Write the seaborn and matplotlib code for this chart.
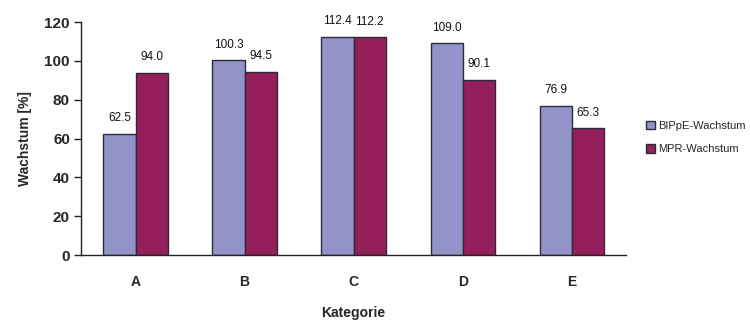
import matplotlib
matplotlib.use("Agg")
import matplotlib.pyplot as plt
from matplotlib.patches import Patch
import seaborn as sns
import pandas as pd

categories = ["A", "B", "C", "D", "E"]
bippe_values = [62.5, 100.3, 112.4, 109.0, 76.9]
mpr_values = [94.0, 94.5, 112.2, 90.1, 65.3]
series_names = ["BIPpE-Wachstum", "MPR-Wachstum"]
colors = ["#9393C9", "#951F5B"]

df = pd.DataFrame({
    "Kategorie": categories * 2,
    "Wert": bippe_values + mpr_values,
    "Serie": [series_names[0]] * len(categories) + [series_names[1]] * len(categories),
})

sns.set_style("white")
plt.rcParams["font.family"] = ["Liberation Sans", "DejaVu Sans"]

fig = plt.figure(figsize=(7.5, 3.2), dpi=100)
ax = fig.add_axes([0.108, 0.203, 0.727, 0.728])

sns.barplot(data=df, x="Kategorie", y="Wert", hue="Serie", palette=colors,
            width=0.59, edgecolor="#2b2b3a", linewidth=1.0, ax=ax,
            legend=False, errorbar=None, saturation=1)

for container in ax.containers:
    ax.bar_label(container, fmt="%.1f", padding=7, fontsize=8.5, color="#111111")

ax.set_ylim(0, 120)
ax.set_yticks(range(0, 121, 20))
ax.set_xlim(-0.5, 4.5)
for s in ["top", "right"]:
    ax.spines[s].set_visible(False)
for s in ["left", "bottom"]:
    ax.spines[s].set_color("#222222")
    ax.spines[s].set_linewidth(1.0)

ax.tick_params(axis="y", which="both", left=True, length=5, width=1,
               color="#222222", direction="out", labelsize=11, pad=3)
ax.tick_params(axis="x", bottom=False, labelsize=10, pad=11)
for lbl in ax.get_yticklabels() + ax.get_xticklabels():
    lbl.set_fontweight("bold")

ax.set_ylabel("Wachstum [%]", fontsize=10, fontweight="bold", labelpad=9)
ax.set_xlabel("Kategorie", fontsize=10, fontweight="bold", labelpad=12)

handles = [Patch(facecolor=c, edgecolor="#2b2b3a", linewidth=1.0) for c in colors]
fig.legend(handles, series_names, loc="center left", bbox_to_anchor=(0.848, 0.57),
           frameon=False, fontsize=8, handlelength=0.8, handleheight=0.8,
           handletextpad=0.3, labelspacing=1.2)

fig.savefig("out.png", dpi=100)
